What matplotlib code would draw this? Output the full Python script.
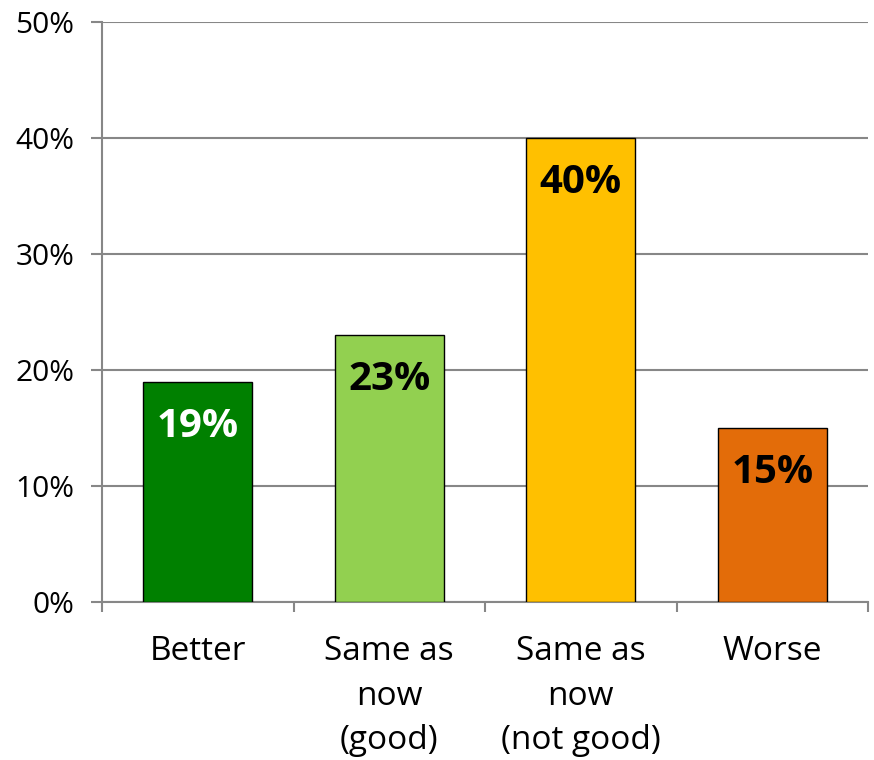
import matplotlib.pyplot as plt
from matplotlib.ticker import PercentFormatter

categorias = ['Better', 'Same as\nnow\n(good)', 'Same as\nnow\n(not good)', 'Worse']
valores = [19, 23, 40, 15]
colores = ['#008000', '#92D050', '#FFC000', '#E36C09']
color_texto = ['white', 'black', 'black', 'black']
ticks_y = [0, 10, 20, 30, 40, 50]

plt.rcParams['font.family'] = ['Open Sans', 'DejaVu Sans']

fig = plt.figure(figsize=(8.74, 7.6), dpi=100)
ax = fig.add_axes([102/874, 1 - 602/760, 766/874, 580/760])

x = range(len(categorias))
barras = ax.bar(x, valores, width=0.57, color=colores, edgecolor='black', linewidth=1, zorder=3)

for b, v, c in zip(barras, valores, color_texto):
    ax.annotate(f'{v}%', (b.get_x() + b.get_width() / 2, v), xytext=(0, -18),
                textcoords='offset points', ha='center', va='top',
                fontsize=29, fontweight='bold', color=c, zorder=4)

ax.set_xlim(-0.5, 3.5)
ax.set_ylim(0, 50)
ax.set_yticks(ticks_y)
ax.yaxis.set_major_formatter(PercentFormatter(decimals=0))
ax.grid(axis='y', color='#878787', linewidth=1.5, zorder=0)

# ticks del eje x en los limites de cada categoria
ax.set_xticks([-0.5, 0.5, 1.5, 2.5, 3.5])
ax.set_xticklabels([])
ax.set_xticks(list(x), minor=True)
ax.set_xticklabels(categorias, minor=True, fontsize=24, linespacing=1.45, va='top')
ax.tick_params(axis='x', which='minor', length=0, pad=24)
ax.tick_params(axis='x', which='major', length=7, width=1.5, color='#878787')
ax.tick_params(axis='y', length=8, width=1.5, color='#878787', labelsize=21.5, pad=12)

for s in ['top', 'right']:
    ax.spines[s].set_visible(False)
for s in ['left', 'bottom']:
    ax.spines[s].set_color('#878787')
    ax.spines[s].set_linewidth(1.5)

fig.savefig('out.png', dpi=100)
